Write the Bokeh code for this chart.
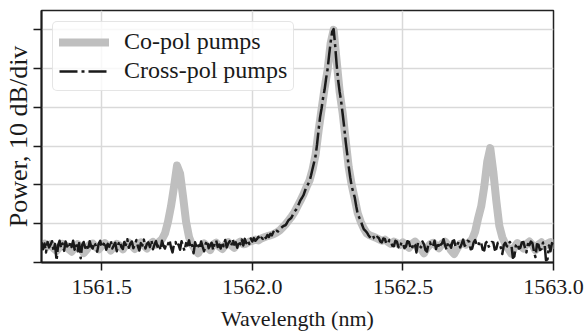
import numpy as np
from bokeh.plotting import figure
from bokeh.models import FixedTicker, Range1d, NumeralTickFormatter, Legend, LegendItem
from bokeh.embed import file_html
from bokeh.resources import INLINE

# Sampling of the spectra (nm)
wl_start = 1561.30
co_step = 0.01
cross_step = 0.005

# Co-pol pumps (dB above the bottom of the plot), every 0.01 nm
co_pol = [
    4.5, 4.9, 4.1, 4.7, 3.7, 3.0, 4.0, 4.8, 4.4, 3.5,
    2.8, 3.9, 4.7, 4.1, 2.4, 3.3, 4.6, 4.9, 4.0, 3.4,
    4.3, 5.0, 4.2, 3.1, 4.0, 4.8, 4.4, 3.4, 4.5, 5.1,
    4.3, 3.5, 4.6, 5.2, 4.4, 3.6, 4.7, 5.3, 4.6, 5.3,
    6.0, 7.5, 10.5, 14.5, 19.5, 25.0, 23.0, 17.0, 10.5, 6.5,
    4.6, 3.4, 2.4, 3.8, 4.9, 4.2, 3.2, 4.6, 5.1, 4.1,
    3.5, 4.5, 5.2, 4.4, 3.8, 4.9, 5.4, 4.7, 4.9, 5.4,
    5.6, 5.9, 5.7, 6.2, 6.5, 6.8, 7.0, 7.3, 7.7, 8.2,
    9.0, 9.8, 10.8, 11.8, 13.0, 14.5, 16.0, 17.6, 19.5, 21.2,
    24.0, 27.8, 34.0, 39.5, 45.0, 49.7, 56.5, 60.0, 52.0, 44.0,
    38.5, 31.5, 24.6, 20.0, 16.5, 12.7, 10.5, 8.8, 7.5, 7.0,
    6.7, 6.4, 6.0, 5.6, 5.9, 5.3, 4.8, 5.4, 5.0, 4.5,
    5.2, 4.6, 3.8, 4.8, 5.4, 4.6, 3.5, 2.4, 3.8, 4.7,
    5.1, 4.4, 3.7, 4.9, 5.4, 4.5, 3.1, 2.2, 3.6, 4.8,
    5.0, 4.6, 5.2, 6.0, 8.0, 11.5, 14.5, 19.5, 26.0, 29.5,
    23.5, 16.0, 9.5, 6.5, 4.8, 3.5, 2.3, 3.9, 5.0, 4.4,
    3.6, 4.8, 5.4, 4.5, 3.2, 4.6, 5.2, 4.2, 4.9, 5.3,
    4.6,
]

# Cross-pol pumps (dB above the bottom of the plot), every 0.005 nm
cross_pol = [
    5.2, 3.4, 4.9, 2.6, 5.3, 3.9, 4.6, 5.5, 3.1, 4.8, 0.5, 4.4, 5.6, 3.7, 4.9, 3.0, 5.4, 4.2, 3.6, 5.1,
    4.0, 5.6, 3.3, 4.7, 2.9, 5.0, 1.1, 4.5, 5.3, 3.8, 4.6, 3.2, 5.5, 4.1, 3.6, 5.2, 4.4, 2.8, 4.9, 5.6,
    3.9, 4.6, 5.4, 3.3, 4.8, 4.1, 5.7, 3.6, 4.4, 5.1, 2.9, 4.7, 5.5, 4.0, 3.5, 5.3, 4.5, 6.0, 3.8, 4.9,
    5.4, 3.7, 4.6, 5.8, 4.2, 3.1, 5.0, 4.4, 5.9, 3.6, 4.8, 5.2, 4.0, 5.7, 3.4, 4.6, 5.5, 4.1, 4.9, 3.2,
    5.6, 4.3, 3.6, 5.1, 4.7, 5.8, 3.9, 2.6, 4.8, 5.3, 4.0, 4.6, 3.3, 5.5, 4.2, 3.0, 5.0, 4.4, 5.7, 3.8,
    4.5, 2.4, 5.2, 3.9, 4.7, 3.5, 5.4, 4.1, 2.9, 4.8, 5.6, 3.7, 4.4, 5.1, 3.2, 4.9, 5.7, 4.0, 4.6, 3.6,
    5.3, 4.2, 5.8, 3.9, 4.9, 5.5, 4.3, 6.0, 4.6, 5.2, 3.8, 5.6, 4.7, 5.9, 4.4, 6.1, 5.0, 5.7, 4.8, 6.2,
    5.4, 6.3, 5.6, 6.0, 6.6, 5.8, 6.4, 6.1, 6.9, 6.3, 7.1, 6.6, 7.4, 7.0, 7.9, 7.5, 8.2, 8.0, 8.6, 8.9,
    9.2, 9.5, 9.6, 10.2, 10.9, 11.2, 11.6, 12.4, 13.2, 13.6, 14.3, 15.2, 16.1, 16.7, 17.4, 18.5, 19.6, 20.2, 21.0, 22.5,
    24.2, 25.8, 27.5, 30.5, 34.2, 37.5, 39.8, 42.5, 44.6, 47.5, 49.9, 53.5, 56.8, 59.5, 60.2, 56.0, 51.0, 47.0, 44.0, 41.5,
    38.3, 35.0, 31.2, 28.0, 24.8, 22.0, 19.6, 18.2, 16.8, 14.5, 12.5, 11.6, 10.8, 9.6, 8.6, 8.2, 7.8, 7.1, 6.6, 7.2,
    7.0, 6.2, 5.9, 6.6, 6.3, 5.4, 5.2, 6.2, 6.1, 4.9, 4.8, 5.8, 5.5, 4.3, 4.2, 5.6, 5.4, 4.0, 3.6, 5.2,
    5.0, 3.7, 4.1, 5.5, 5.3, 3.9, 3.4, 5.0, 4.6, 2.6, 5.1, 4.3, 3.9, 5.4, 4.7, 3.2, 2.8, 4.9, 5.2, 4.0,
    4.3, 5.6, 3.5, 5.2, 3.7, 4.6, 4.9, 6.0, 4.4, 3.3, 5.3, 4.7, 3.8, 5.5, 5.7, 4.0, 4.5, 5.3, 3.9, 4.8,
    5.9, 4.3, 4.6, 5.6, 5.4, 3.4, 3.6, 5.2, 5.8, 4.6, 4.2, 5.5, 5.0, 3.3, 3.1, 5.0, 5.5, 4.1, 4.4, 5.3,
    5.2, 3.3, 3.5, 5.1, 4.8, 3.9, 2.2, 4.5, 5.1, 4.2, 4.0, 5.3, 4.7, 1.2, 1.6, 4.4, 4.9, 3.6, 3.8, 5.2,
    5.3, 3.9, 2.6, 4.8, 4.5, 5.4, 5.0, 2.9, 1.4, 4.7, 4.6, 3.2, 3.5, 5.1, 5.2, 0.6, 0.8, 4.4, 2.9, 5.0,
    4.7,
]

co_wavelength = [round(wl_start + co_step * i, 3) for i in range(len(co_pol))]
cross_wavelength = [round(wl_start + cross_step * i, 3) for i in range(len(cross_pol))]

x_ticks = [1561.5, 1562.0, 1562.5, 1563.0]
y_ticks = [0, 10, 20, 30, 40, 50, 60]
x_title = "Wavelength (nm)"
y_title = "Power, 10 dB/div"

FONT = "Liberation Serif"

p = figure(width=587, height=333,
           x_range=Range1d(1561.30, 1563.0), y_range=Range1d(0, 65),
           output_backend="svg", toolbar_location=None,
           min_border_left=40, min_border_right=34,
           min_border_top=10, min_border_bottom=71)

p.background_fill_color = "white"
p.border_fill_color = "white"
p.outline_line_color = "#222222"
p.outline_line_width = 1.5

r_co = p.line(co_wavelength, co_pol, line_color="#bfbfbf", line_width=8,
              line_cap="round", line_join="round")
r_cross = p.line(cross_wavelength, cross_pol, line_color="#1a1a1a", line_width=2.5,
                 line_dash="18 4 3 4", line_join="round")

p.xaxis.ticker = FixedTicker(ticks=x_ticks)
p.yaxis.ticker = FixedTicker(ticks=y_ticks)
p.xaxis.formatter = NumeralTickFormatter(format="0.0")
p.xaxis.minor_tick_line_color = None
p.yaxis.minor_tick_line_color = None

for ax in (p.xaxis[0], p.yaxis[0]):
    ax.axis_line_color = "#1a1a1a"
    ax.axis_line_width = 2
    ax.major_tick_line_color = "#1a1a1a"
    ax.major_tick_line_width = 1.5
    ax.major_tick_out = 8
    ax.major_tick_in = 0
    ax.axis_label_text_font = FONT
    ax.axis_label_text_font_style = "normal"
    ax.axis_label_text_color = "#1a1a1a"
    ax.major_label_text_font = FONT
    ax.major_label_text_color = "#1a1a1a"

p.xaxis.axis_label = x_title
p.xaxis.axis_label_text_font_size = "22px"
p.xaxis.major_label_text_font_size = "22px"
p.xaxis.major_label_standoff = 9
p.xaxis.axis_label_standoff = 9

p.yaxis.axis_label = y_title
p.yaxis.axis_label_text_font_size = "26px"
p.yaxis.major_label_text_font_size = "1px"
p.yaxis.major_label_text_alpha = 0
p.yaxis.major_label_standoff = 0
p.yaxis.axis_label_standoff = 1

p.xgrid.grid_line_color = "#d9d9d9"
p.ygrid.grid_line_color = "#d9d9d9"
p.xgrid.grid_line_width = 1.5
p.ygrid.grid_line_width = 1.5

legend = Legend(items=[LegendItem(label="Co-pol pumps", renderers=[r_co]),
                       LegendItem(label="Cross-pol pumps", renderers=[r_cross])],
                location="top_left")
legend.margin = 11
legend.padding = 6
legend.spacing = 2
legend.glyph_width = 50
legend.glyph_height = 20
legend.label_height = 20
legend.label_standoff = 15
legend.label_text_font = FONT
legend.label_text_font_size = "24px"
legend.label_text_color = "#1a1a1a"
legend.border_line_color = "#cccccc"
legend.border_line_width = 1.5
legend.border_radius = 5
legend.background_fill_color = "white"
legend.background_fill_alpha = 0.8
p.add_layout(legend)

open("out.html", "w").write(file_html(p, INLINE))
